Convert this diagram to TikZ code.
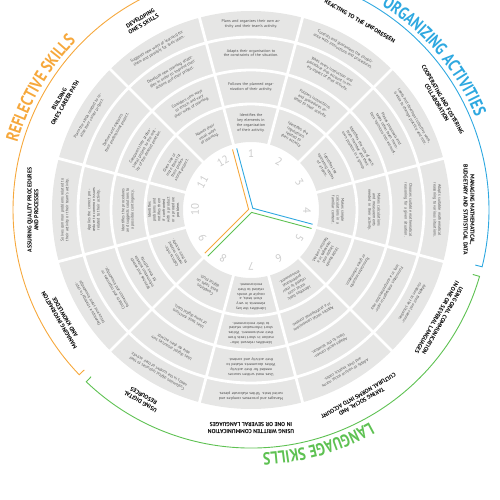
\documentclass[tikz,border=0pt]{standalone}
\usepackage{fontspec}
\setmainfont{PT Sans}
\newfontfamily\bigfont[FakeStretch=0.8]{PT Sans}
\usepackage{xcolor}
\usetikzlibrary{decorations.text}

\definecolor{cellgray}{HTML}{E6E6E5}
\definecolor{celltext}{HTML}{505050}
\definecolor{numgray}{HTML}{CBCBCB}
\definecolor{catorange}{HTML}{F6A83C}
\definecolor{catblue}{HTML}{2EA8E0}
\definecolor{catgreen}{HTML}{5EC152}

\begin{document}
\begin{tikzpicture}[x=1pt, y=1pt,
    cell/.style={align=center, text=celltext, inner sep=0pt, font=\fontsize{4}{4.7}\selectfont},
    skill/.style={align=center, text=black, inner sep=0pt, font=\bfseries\fontsize{5.8}{6.6}\selectfont},
    num/.style={text=numgray, inner sep=0pt, font=\fontsize{11}{11}\selectfont},
    sep/.style={draw=white, line width=2.8pt},
    catline/.style={line width=0.9pt},
    hand/.style={line width=0.9pt}]
  \useasboundingbox (-251,-290) rectangle (249,210);
  \clip (-251,-290) rectangle (249,210);

  \fill[cellgray, even odd rule] (0,0) circle (199pt) (0,0) circle (68pt);
  \foreach \r in {106,140,173}
    \draw[sep] (0,0) circle (\r pt);
  \foreach \b in {15,45,...,345}
    \draw[sep] (\b:66) -- (\b:201);

  \foreach \a/\ta/\tb/\tc/\td [count=\k] in {
    90/{Identifies the key elements in the organization of their activity.}/{Follows the planned organization of their activity.}/{Adapts their organisation to the constraints of the situation.}/{Plans and organizes their own activity and their team's activity.},
    60/{Identifies the regulations related to their activity.}/{Follows instructions and procedures related to their activity.}/{Takes every instruction and procedure into account in every aspect of their activity.}/{Controls and guarantees the compliance with instructions and procedures.},
    30/{Identifies the operating modes of a team.}/{Identifies the role of each team member and their own position in a group.}/{Makes proposals and takes other team members' opinions into account.}/{Leads and develops collective work, is able to change practice and role.},
    0/{Makes simple calculations in a familiar context.}/{Makes calculations and measurements needed in their activity.}/{Chooses suitable mathematical reasoning for a given situation.}/{Adapts suitable mathematical reasoning to various situations.},
    -30/{Understands simple oral messages in a familiar context.}/{Formulates requests or gives information.}/{Formulates messages or opinions in a comprehensible way.}/{Adapts their oral communication to the situation.},
    -60/{Identifies basic social rules related to their professional environment.}/{Applies social conventions in a professional context.}/{Adapts social conventions to the situation.}/{Adapts to various social norms and their implicit codes.},
    -90/{Identifies the key elements in very short texts, a couple of words related to their environment.}/{Identifies relevant information in short texts from their environment. Writes short information related to their environment.}/{Uses most written sources needed for their activity. Writes documents related to their activity and context.}/{Manages and processes complex and varied texts. Writes elaborate pieces.},
    -120/{Completes basic tasks on digital tools.}/{Uses basic functions of some digital tools.}/{Uses digital resources suitable for their activity.}/{Customizes digital resources to their needs in the context of their activity.},
    -150/{Collects information related to their activity.}/{Searches and selects information suitable for their activity.}/{Collects and organizes information and knowledge.}/{Develops a strategy to capitalize and share knowledge.},
    180/{Identifies problems and notifies them if confronted with a product or a procedure problem.}/{Identifies the procedures and suggests solutions to a possible contingency.}/{Applies the correct procedure to common issues related to their activity.}/{Solves common problems related to their activity or their team's activity.},
    150/{Gives one or more ideas for their professional project.}/{Compares their professional project to the reality of the desired position.}/{Defines and explains their professional project.}/{Plans the steps needed to realize their career project.},
    120/{Names their usual ways of learning.}/{Considers new ways to enrich and vary their ways of learning.}/{Develops new learning strategies in order to improve their actions and their project.}/{Suggests new ways of learning for them and possibly for their team.}}
  {
    \node[cell, text width=31pt, rotate=\a-90] (cell-\k-1) at (\a:87) {\ta};
    \node[cell, text width=46pt, rotate=\a-90] (cell-\k-2) at (\a:123) {\tb};
    \node[cell, text width=62pt, rotate=\a-90] (cell-\k-3) at (\a:157) {\tc};
    \node[cell, text width=80pt, rotate=\a-90] (cell-\k-4) at (\a:186) {\td};
    \node[num, rotate=\a-90] (num-\k) at (\a:56) {\k};
  }

  \foreach \a/\lab in {
    60/{REACTING TO THE UNFORESEEN},
    30/{COOPERATING AND FOSTERING\\COLLABORATION},
    0/{MANAGING MATHEMATICAL,\\BUDGETARY AND STATISTICAL DATA},
    -30/{USING ORAL COMMUNICATION\\IN ONE OR SEVERAL LANGUAGES},
    -60/{TAKING SOCIAL AND\\CULTURAL NORMS INTO ACCOUNT},
    -90/{USING WRITTEN COMMUNICATION\\IN ONE OR SEVERAL LANGUAGES},
    -120/{USING DIGITAL\\RESOURCES},
    -150/{MANAGING INFORMATION\\AND KNOWLEDGE},
    180/{ASSURING QUALITY PROCEDURES\\AND PROCESSES},
    150/{BUILDING\\ONE'S CAREER PATH},
    120/{DEVELOPING\\ONE'S SKILLS}}
    \node[skill, rotate=\a-90] (skill-\a) at (\a:218) {\lab};

  \draw[hand, catblue, shift={(45:2.5)}] (105:62) -- (0,0) -- (-15:62);
  \draw[hand, catorange, shift={(165:2.5)}] (105:62) -- (0,0) -- (225:62);
  \draw[hand, catgreen, shift={(285:2.5)}] (-15:62) -- (0,0) -- (225:62);

  \draw[catline, catblue] (103.8:231) -- (103.8:238) arc[start angle=103.8, end angle=-13.8, radius=238pt] -- (-13.8:231);
  \draw[catline, catgreen] (-16.2:231) -- (-16.2:238) arc[start angle=-16.2, end angle=-133.8, radius=238pt] -- (-133.8:231);
  \draw[catline, catorange] (-136.2:231) -- (-136.2:238) arc[start angle=-136.2, end angle=-253.8, radius=238pt] -- (-253.8:231);

  \path[decorate, decoration={text along path, text align=center,
      text={|\bigfont\bfseries\fontsize{17.5}{17.5}\selectfont\color{catblue}|ORGANIZING ACTIVITIES}}]
    (70:243) arc[start angle=70, end angle=10, radius=243pt];
  \path[decorate, decoration={text along path, text align=center,
      text={|\bigfont\bfseries\fontsize{17.5}{17.5}\selectfont\color{catgreen}|LANGUAGE SKILLS}}]
    (-44:243) arc[start angle=-44, end angle=-104, radius=243pt];
  \path[decorate, decoration={text along path, text align=center,
      text={|\bigfont\bfseries\fontsize{17.5}{17.5}\selectfont\color{catorange}|REFLECTIVE SKILLS}}]
    (180:243) arc[start angle=180, end angle=120, radius=243pt];
\end{tikzpicture}
\end{document}
